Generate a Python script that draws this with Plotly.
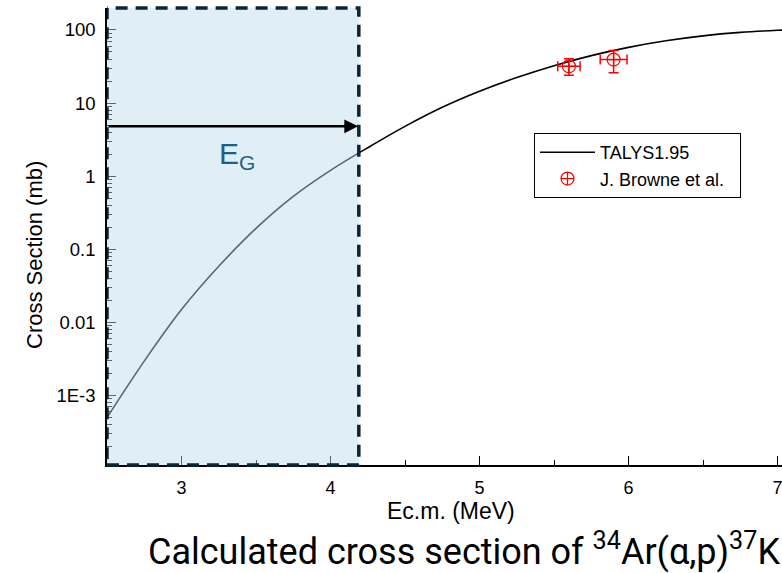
import math
import plotly.graph_objects as go

# TALYS1.95 curve
talys_x = [2.50, 2.75, 3.00, 3.25, 3.50, 3.75, 4.00, 4.25, 4.50, 4.75, 5.00, 5.25, 5.50, 5.75, 6.00, 6.25, 6.50, 6.75, 7.00, 7.03]
talys_y = [5.0e-4, 2.96e-3, 0.0150, 0.0585, 0.193, 0.528, 1.20, 2.45, 4.8, 8.75, 14.5, 22.3, 32.4, 44.5, 57.7, 71.0, 83.0, 92.5, 99.0, 99.5]

# J. Browne et al. data
exp_x = [5.60, 5.90]
exp_y = [31.8, 39.3]
exp_yerr_plus = [8.7, 13.2]
exp_yerr_minus = [7.8, 13.3]
exp_xerr = [0.075, 0.09]

ytick_vals = [1e-3, 0.01, 0.1, 1, 10, 100]
ytick_text = ["1E-3", "0.01", "0.1", "1", "10", "100"]
xtick_vals = [3, 4, 5, 6, 7]

gamow_lo, gamow_hi = 2.5, 4.19
arrow_y = 4.8

# pixel helpers for paper placement of free text
L, R, T, B, W, H = 107, 0, 8, 108, 782, 573
PW, PH = W - L - R, H - T - B


def px(x):
    return (x - L) / PW


def py(y):
    return (H - B - y) / PH


fig = go.Figure()
fig.add_trace(go.Scatter(
    x=talys_x, y=talys_y, mode="lines", name="TALYS1.95",
    line=dict(color="black", width=1.6, shape="spline", smoothing=1.0),
))
fig.add_trace(go.Scatter(
    x=exp_x, y=exp_y, mode="markers", name="J. Browne et al.\u00a0\u00a0",
    marker=dict(symbol="circle-cross-open", size=13, color="red", line=dict(width=1.2, color="red")),
    error_y=dict(type="data", array=exp_yerr_plus, arrayminus=exp_yerr_minus, color="red", thickness=1.5, width=5),
    error_x=dict(type="data", array=exp_xerr, color="red", thickness=1.5, width=5),
))

# Gamow window shading (above traces, semi-transparent)
fig.add_shape(type="rect", xref="x", yref="paper", x0=gamow_lo, x1=gamow_hi, y0=0, y1=1,
              fillcolor="rgba(190,222,236,0.47)", line=dict(width=0), layer="above")
fig.add_shape(type="rect", xref="x", yref="paper", x0=gamow_lo, x1=gamow_hi, y0=0, y1=1,
              fillcolor="rgba(0,0,0,0)", line=dict(color="#0b2535", width=3.5, dash="12px,8px"), layer="above")

fig.add_annotation(x=gamow_hi - 0.005, y=math.log10(arrow_y), ax=gamow_lo, ay=math.log10(arrow_y),
                   xref="x", yref="y", axref="x", ayref="y", text="", showarrow=True,
                   arrowhead=2, arrowsize=1.1, arrowwidth=2.5, arrowcolor="black")
fig.add_annotation(x=3.37, y=math.log10(1.9), xref="x", yref="y", showarrow=False,
                   text="E<sub>G</sub>", font=dict(family="Liberation Sans, Arial", size=30, color="#1d6286"))

fig.add_annotation(x=px(451), y=py(511), xref="paper", yref="paper", showarrow=False, text="Ec.m. (MeV)",
                   xanchor="center", yanchor="middle",
                   font=dict(family="Liberation Sans, Arial", size=23, color="black"))
fig.add_annotation(x=px(34), y=py(255), xref="paper", yref="paper", showarrow=False,
                   text="Cross Section (mb)", textangle=-90, xanchor="center", yanchor="middle",
                   font=dict(family="Liberation Sans, Arial", size=22, color="black"))
fig.add_annotation(x=px(146), y=py(549), xref="paper", yref="paper", xanchor="left",
                   yanchor="middle", showarrow=False,
                   text="Calculated cross section of <sup>34</sup>Ar(\u03b1,p)<sup>37</sup>K",
                   font=dict(family="Roboto", size=36, color="black"))

fig.update_layout(
    width=W, height=H,
    margin=dict(l=L, r=R, t=T, b=B),
    paper_bgcolor="white", plot_bgcolor="white",
    showlegend=True,
    legend=dict(x=px(534), y=py(133), xanchor="left", yanchor="top",
                bordercolor="black", borderwidth=1, bgcolor="white",
                font=dict(family="Liberation Sans, Arial", size=18, color="black"),
                itemwidth=55, tracegroupgap=0),
    font=dict(family="Liberation Sans, Arial", color="black"),
)

fig.update_xaxes(range=[2.5, 7.03], tickvals=xtick_vals, ticks="inside", ticklen=9, tickwidth=1.3,
                 tickcolor="black", showline=True, linecolor="black", linewidth=1.5, showgrid=False,
                 zeroline=False, tickfont=dict(size=18), ticklabelstandoff=6, ticklabeloverflow="allow",
                 minor=dict(ticks="inside", ticklen=5, dtick=0.5, tickcolor="black", showgrid=False))
fig.update_yaxes(type="log", range=[-3.95, 2.3], tickvals=ytick_vals, ticktext=ytick_text,
                 ticks="inside", ticklen=9, tickwidth=1.3, tickcolor="black", showline=True,
                 linecolor="black", linewidth=1.5, showgrid=False, zeroline=False,
                 tickfont=dict(size=18.5), ticklabelstandoff=6,
                 minor=dict(ticks="inside", ticklen=5, dtick="D1", tickcolor="black", showgrid=False))

fig.write_html("out.html")
